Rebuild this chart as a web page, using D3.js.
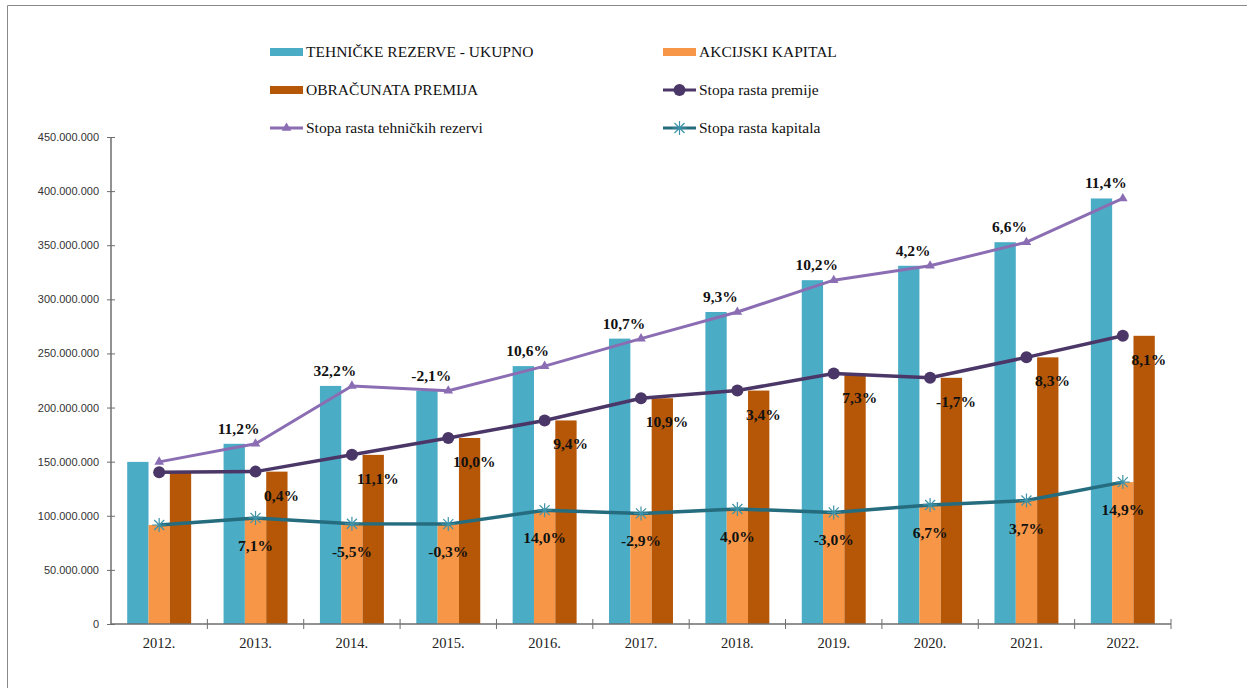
<!doctype html>
<html lang="sr">
<head>
  <meta charset="utf-8">
  <title>Rezerve, kapital i premija</title>
  <script src="https://cdn.jsdelivr.net/npm/d3@7"></script>
</head>
<body style="margin: 0; background: #fff;">
  <svg width="1247" height="688"></svg>
  <script>
    // data (amounts in dinars, rates in %)
    var years = ["2012.", "2013.", "2014.", "2015.", "2016.", "2017.", "2018.", "2019.", "2020.", "2021.", "2022."];
    var tehnickeRezerve = [149.8e6, 166.5e6, 220.0e6, 215.5e6, 238.3e6, 263.7e6, 288.3e6, 317.7e6, 331.0e6, 352.8e6, 393.2e6];
    var akcijskiKapital = [91.5e6, 98.0e6, 92.6e6, 92.3e6, 105.2e6, 102.2e6, 106.3e6, 103.1e6, 110.0e6, 114.1e6, 131.1e6];
    var obracunataPremija = [140.3e6, 140.8e6, 156.3e6, 171.9e6, 188.1e6, 208.6e6, 215.7e6, 231.4e6, 227.5e6, 246.4e6, 266.3e6];
    var rastRezervi = [null, 11.2, 32.2, -2.1, 10.6, 10.7, 9.3, 10.2, 4.2, 6.6, 11.4];
    var rastPremije = [null, 0.4, 11.1, 10.0, 9.4, 10.9, 3.4, 7.3, -1.7, 8.3, 8.1];
    var rastKapitala = [null, 7.1, -5.5, -0.3, 14.0, -2.9, 4.0, -3.0, 6.7, 3.7, 14.9];
    var yTicks = [0, 50e6, 100e6, 150e6, 200e6, 250e6, 300e6, 350e6, 400e6, 450e6];

    var cTeal = "#4bacc6", cOrange = "#f79646", cBrown = "#b65708";
    var cTech = "#8b6db3", cPrem = "#4b3767", cKap = "#246c7e";

    var svg = d3.select("svg");
    var serif = "'Liberation Serif', 'Times New Roman', serif";

    // frame (only top and left edge visible)
    svg.append("path")
        .attr("d", "M7.5,688V5.5H1247")
        .attr("fill", "none")
        .attr("stroke", "#8a8a8a");

    var plotL = 111, plotR = 1171, plotT = 137, plotB = 624;

    var x = d3.scaleBand().domain(years).range([plotL, plotR]).paddingInner(0).paddingOuter(0);
    var xs = d3.scaleBand().domain([0, 1, 2]).range([0, x.bandwidth()]).paddingInner(0).paddingOuter(0.76);
    var y = d3.scaleLinear().domain([0, 450e6]).range([plotB, plotT]);

    var loc = d3.formatLocale({decimal: ",", thousands: ".", grouping: [3], currency: ["", ""], minus: "-"});
    var fmtNum = loc.format(",.0f");
    var fmtPct = function(v) { return loc.format(".1f")(v) + "%"; };

    // bars
    var series = [tehnickeRezerve, akcijskiKapital, obracunataPremija];
    var colors = [cTeal, cOrange, cBrown];
    series.forEach(function(s, si) {
      svg.append("g").selectAll("rect")
        .data(s)
        .enter().append("rect")
          .attr("x", function(d, i) { return x(years[i]) + xs(si); })
          .attr("y", function(d) { return y(d); })
          .attr("width", xs.bandwidth())
          .attr("height", function(d) { return plotB - y(d); })
          .attr("fill", colors[si]);
    });

    // axes
    var yAxis = svg.append("g")
        .attr("transform", "translate(" + plotL + ",0)")
        .call(d3.axisLeft(y).tickValues(yTicks).tickFormat(fmtNum).tickSize(4).tickPadding(8));
    yAxis.selectAll(".tick line").attr("x2", 4).attr("x1", -4).attr("stroke", "#6e6e6e");
    yAxis.selectAll("text").attr("font-family", "'Liberation Sans', Arial, sans-serif").attr("font-size", 11).attr("fill", "#333").attr("x", -12);
    yAxis.select(".domain").attr("stroke", "#6e6e6e").attr("stroke-width", 1.5).attr("d", "M0," + plotT + "V" + plotB);

    var bounds = years.map(function(d) { return x(d); }).concat([plotR]);
    var xAxis = svg.append("g")
        .attr("transform", "translate(0," + plotB + ")");
    xAxis.append("line").attr("x1", plotL).attr("x2", plotR).attr("stroke", "#6e6e6e").attr("stroke-width", 1.5);
    xAxis.selectAll("line.t").data(bounds.slice(1))
      .enter().append("line")
        .attr("class", "t")
        .attr("x1", function(d) { return d; }).attr("x2", function(d) { return d; })
        .attr("y1", -5).attr("y2", 5)
        .attr("stroke", "#6e6e6e");
    xAxis.selectAll("text").data(years)
      .enter().append("text")
        .attr("x", function(d) { return x(d) + x.bandwidth() / 2; })
        .attr("y", 24)
        .attr("text-anchor", "middle")
        .attr("font-family", serif)
        .attr("font-size", 14.5)
        .attr("fill", "#222")
        .text(function(d) { return d; });

    // lines
    var cx = function(i) { return x(years[i]) + x.bandwidth() / 2; };
    var line = d3.line().x(function(d, i) { return cx(i); }).y(function(d) { return y(d); });

    function drawLine(s, color, w) {
      svg.append("path")
        .datum(s)
        .attr("d", line)
        .attr("fill", "none")
        .attr("stroke", color)
        .attr("stroke-width", w)
        .attr("stroke-linejoin", "round");
    }
    drawLine(tehnickeRezerve, cTech, 3);
    drawLine(obracunataPremija, cPrem, 3.5);
    drawLine(akcijskiKapital, cKap, 3.5);

    var tri = d3.symbol().type(d3.symbolTriangle).size(40);
    function triMark(g, px, py) {
      g.append("path").attr("d", tri()).attr("transform", "translate(" + px + "," + py + ")").attr("fill", cTech);
    }
    function circMark(g, px, py) {
      g.append("circle").attr("cx", px).attr("cy", py).attr("r", 6).attr("fill", cPrem);
    }
    function starMark(g, px, py) {
      var r = 7, a = 5;
      var p = "M" + px + "," + (py - r) + "V" + (py + r) +
              "M" + (px - a) + "," + (py - a) + "L" + (px + a) + "," + (py + a) +
              "M" + (px + a) + "," + (py - a) + "L" + (px - a) + "," + (py + a) +
              "M" + (px - r) + "," + py + "H" + (px + r);
      g.append("path").attr("d", p).attr("stroke", "#3f93a8").attr("stroke-width", 1.2).attr("fill", "none");
    }

    var marks = svg.append("g");
    tehnickeRezerve.forEach(function(d, i) { triMark(marks, cx(i), y(d)); });
    obracunataPremija.forEach(function(d, i) { circMark(marks, cx(i), y(d)); });
    akcijskiKapital.forEach(function(d, i) { starMark(marks, cx(i), y(d)); });

    // growth-rate labels
    function labels(vals, rates, dx, dy) {
      var pts = rates.map(function(r, i) { return {r: r, i: i}; })
          .filter(function(d) { return d.r !== null; });
      svg.append("g").selectAll("text")
        .data(pts)
        .enter().append("text")
          .attr("x", function(d) { return cx(d.i) + dx; })
          .attr("y", function(d) { return y(vals[d.i]) + dy; })
          .attr("text-anchor", "middle")
          .attr("font-family", serif)
          .attr("font-weight", "bold")
          .attr("font-size", 15.5)
          .attr("fill", "#111")
          .text(function(d) { return fmtPct(d.r); });
    }
    labels(tehnickeRezerve, rastRezervi, -17, -10);
    labels(obracunataPremija, rastPremije, 26, 29);
    labels(akcijskiKapital, rastKapitala, 0, 33);

    // legend
    var legend = [
      {name: "TEHNIČKE REZERVE - UKUPNO", type: "bar", color: cTeal, col: 0, row: 0},
      {name: "AKCIJSKI KAPITAL", type: "bar", color: cOrange, col: 1, row: 0},
      {name: "OBRAČUNATA PREMIJA", type: "bar", color: cBrown, col: 0, row: 1},
      {name: "Stopa rasta premije", type: "circ", color: cPrem, col: 1, row: 1},
      {name: "Stopa rasta tehničkih rezervi", type: "tri", color: cTech, col: 0, row: 2},
      {name: "Stopa rasta kapitala", type: "star", color: cKap, col: 1, row: 2}
    ];
    var colX = [270, 663], rowY = [52, 90, 128];
    legend.forEach(function(l) {
      var lx = colX[l.col], ly = rowY[l.row];
      var g = svg.append("g");
      if (l.type === "bar") {
        g.append("rect").attr("x", lx).attr("y", ly - 4).attr("width", 33).attr("height", 8).attr("fill", l.color);
      } else {
        g.append("line").attr("x1", lx).attr("x2", lx + 33).attr("y1", ly).attr("y2", ly)
          .attr("stroke", l.color).attr("stroke-width", 3);
        if (l.type === "circ") circMark(g, lx + 16.5, ly);
        if (l.type === "tri") triMark(g, lx + 16.5, ly);
        if (l.type === "star") starMark(g, lx + 16.5, ly);
      }
      g.append("text")
        .attr("x", lx + 36)
        .attr("y", ly + 5)
        .attr("font-family", serif)
        .attr("font-size", 15.5)
        .attr("fill", "#111")
        .text(l.name);
    });
  </script>
</body>
</html>
